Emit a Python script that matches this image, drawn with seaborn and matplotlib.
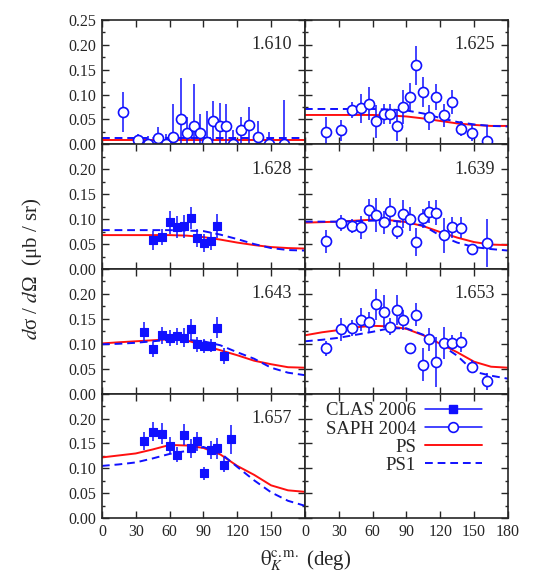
import matplotlib
matplotlib.use("Agg")
import matplotlib.pyplot as plt
from matplotlib.lines import Line2D
from matplotlib.ticker import MultipleLocator
import numpy as np
import seaborn as sns

# angles (deg) for the model curves
theta_curve = [0, 15, 30, 45, 60, 75, 90, 105, 120, 135, 150, 165, 180]

# SAPHIR 2004 angles, shared by all SAPH panels
saph_theta = [18.3, 31.6, 41.3, 49.3, 56.9, 63.4, 69.9, 75.2, 81.4, 87.0,
              92.9, 98.5, 104.4, 110.3, 116.5, 123.0, 130.7, 138.3, 148.0, 161.7]
# CLAS 2006 angles
clas_theta = [36.9, 45.5, 53.0, 60.1, 66.5, 72.9, 78.6, 84.5, 90.5, 96.4,
              102.4, 108.3, 114.3]

# W = 1.610
saph_1610 = [0.065, 0.008, 0.0, 0.013, 0.0, 0.0155, 0.050, 0.023, 0.037, 0.023,
             0.005, 0.047, 0.037, 0.036, 0.0, 0.028, 0.038, 0.0155, 0.0, 0.0]
saph_1610_err = [0.041, 0.012, 0.017, 0.022, 0.021, 0.066, 0.083, 0.032, 0.084, 0.037,
                 0.062, 0.040, 0.046, 0.044, 0.029, 0.026, 0.037, 0.032, 0.024, 0.089]
ps_1610 = [0.008] * 13
ps1_1610 = [0.012] * 13

# W = 1.625
saph_1625 = [0.0255, 0.028, 0.0685, 0.0726, 0.082, 0.046, 0.061, 0.061, 0.037, 0.0746,
             0.095, 0.159, 0.1055, 0.054, 0.095, 0.058, 0.085, 0.031, 0.0235, 0.0067]
saph_1625_err = [0.030, 0.021, 0.016, 0.029, 0.034, 0.033, 0.021, 0.021, 0.030, 0.034,
                 0.029, 0.039, 0.030, 0.025, 0.027, 0.024, 0.024, 0.015, 0.016, 0.033]
ps_1625 = [0.059, 0.059, 0.059, 0.059, 0.059, 0.058, 0.056, 0.052, 0.047, 0.042, 0.039, 0.037, 0.037]
ps1_1625 = [0.071, 0.071, 0.071, 0.071, 0.071, 0.070, 0.068, 0.062, 0.053, 0.045, 0.040, 0.037, 0.036]

# W = 1.628
clas_1628 = [0.058, 0.064, 0.094, 0.085, 0.086, 0.102, 0.062, 0.052, 0.056, 0.087]
clas_1628_err = [0.019, 0.016, 0.023, 0.022, 0.023, 0.022, 0.018, 0.018, 0.018, 0.024]
ps_1628 = [0.068, 0.068, 0.068, 0.068, 0.068, 0.067, 0.064, 0.059, 0.053, 0.048, 0.044, 0.042, 0.041]
ps1_1628 = [0.078, 0.078, 0.078, 0.078, 0.078, 0.077, 0.076, 0.069, 0.060, 0.050, 0.042, 0.038, 0.037]

# W = 1.639
saph_1639 = [0.056, 0.093, 0.087, 0.084, 0.119, 0.109, 0.094, 0.116, 0.077, 0.111,
             0.100, 0.055, 0.102, 0.114, 0.113, 0.068, 0.084, 0.083, 0.040, 0.052]
saph_1639_err = [0.023, 0.016, 0.014, 0.023, 0.022, 0.034, 0.023, 0.027, 0.017, 0.028,
                 0.024, 0.028, 0.019, 0.022, 0.025, 0.035, 0.021, 0.021, 0.010, 0.048]
ps_1639 = [0.093, 0.094, 0.095, 0.097, 0.099, 0.098, 0.094, 0.086, 0.074, 0.063, 0.054, 0.049, 0.048]
ps1_1639 = [0.095, 0.095, 0.095, 0.096, 0.097, 0.097, 0.094, 0.087, 0.067, 0.053, 0.044, 0.040, 0.037]

# W = 1.643
clas_1643 = [0.124, 0.089, 0.117, 0.112, 0.115, 0.112, 0.129, 0.099, 0.095, 0.096, 0.132, 0.075]
clas_1643_err = [0.019, 0.015, 0.017, 0.016, 0.017, 0.019, 0.021, 0.015, 0.014, 0.013, 0.021, 0.016]
ps_1643 = [0.1007, 0.103, 0.105, 0.107, 0.109, 0.107, 0.097, 0.087, 0.077, 0.066, 0.059, 0.053, 0.052]
ps1_1643 = [0.099, 0.100, 0.102, 0.105, 0.108, 0.108, 0.105, 0.097, 0.083, 0.070, 0.052, 0.042, 0.037]

# W = 1.653
saph_1653 = [0.0906, 0.129, 0.132, 0.148, 0.143, 0.179, 0.164, 0.134, 0.168, 0.148,
             0.092, 0.158, 0.058, 0.109, 0.064, 0.102, 0.102, 0.104, 0.054, 0.025]
saph_1653_err = [0.015, 0.023, 0.016, 0.023, 0.021, 0.031, 0.033, 0.017, 0.030, 0.020,
                 0.010, 0.023, 0.033, 0.023, 0.050, 0.032, 0.015, 0.020, 0.013, 0.017]
ps_1653 = [0.117, 0.123, 0.1275, 0.133, 0.136, 0.135, 0.130, 0.117, 0.100, 0.083, 0.064, 0.054, 0.052]
ps1_1653 = [0.105, 0.108, 0.112, 0.118, 0.124, 0.131, 0.131, 0.118, 0.099, 0.076, 0.044, 0.036, 0.030]

# W = 1.657
clas_1657 = [0.155, 0.174, 0.170, 0.145, 0.127, 0.168, 0.140, 0.154, 0.090, 0.137, 0.140, 0.107, 0.158]
clas_1657_err = [0.019, 0.020, 0.022, 0.017, 0.015, 0.021, 0.019, 0.020, 0.013, 0.018, 0.021, 0.015, 0.030]
ps_1657 = [0.122, 0.126, 0.130, 0.138, 0.147, 0.146, 0.141, 0.128, 0.105, 0.087, 0.066, 0.056, 0.053]
ps1_1657 = [0.105, 0.108, 0.112, 0.120, 0.129, 0.135, 0.143, 0.131, 0.103, 0.076, 0.052, 0.035, 0.025]

BLUE = '#1010ff'
RED = '#ff1010'

sns.set_style("ticks")
plt.rcParams['font.family'] = ['Liberation Serif', 'DejaVu Serif']
plt.rcParams['mathtext.fontset'] = 'stix'


def draw_points(ax, x, y, err, kind):
    y = np.asarray(y)
    err = np.asarray(err)
    low = np.minimum(err, y)
    if kind == 'clas':
        style = dict(marker='s', ms=6, mfc=BLUE, mec=BLUE)
    else:
        style = dict(marker='o', ms=7.2, mfc='white', mec=BLUE, mew=1.2)
    ax.errorbar(x, y, yerr=[low, err], fmt='none', ecolor=BLUE, elinewidth=1.1, zorder=3)
    sns.scatterplot(x=x, y=y, ax=ax, zorder=4, clip_on=False,
                    marker=style['marker'], s=style['ms'] ** 2,
                    facecolor=style['mfc'], edgecolor=style['mec'],
                    linewidth=style.get('mew', 0.8))


def draw_curves(ax, ps, ps1):
    sns.lineplot(x=theta_curve, y=ps, ax=ax, color=RED, lw=1.4, zorder=2)
    sns.lineplot(x=theta_curve, y=ps1, ax=ax, color=BLUE, lw=1.4, ls=(0, (4, 2.5)), zorder=2)


panels = [
    ('1.610', 'saph', saph_theta, saph_1610, saph_1610_err, ps_1610, ps1_1610),
    ('1.625', 'saph', saph_theta, saph_1625, saph_1625_err, ps_1625, ps1_1625),
    ('1.628', 'clas', clas_theta[1:11], clas_1628, clas_1628_err, ps_1628, ps1_1628),
    ('1.639', 'saph', saph_theta, saph_1639, saph_1639_err, ps_1639, ps1_1639),
    ('1.643', 'clas', clas_theta[:12], clas_1643, clas_1643_err, ps_1643, ps1_1643),
    ('1.653', 'saph', saph_theta, saph_1653, saph_1653_err, ps_1653, ps1_1653),
    ('1.657', 'clas', clas_theta, clas_1657, clas_1657_err, ps_1657, ps1_1657),
]

fig, axes = plt.subplots(4, 2, figsize=(5.45, 5.81), dpi=100)
fig.subplots_adjust(left=0.187, right=0.932, top=0.966, bottom=0.108, wspace=0, hspace=0)

for i, ax in enumerate(axes.flat):
    row, col = divmod(i, 2)
    if i < 7:
        label, kind, x, y, err, ps, ps1 = panels[i]
        draw_curves(ax, ps, ps1)
        draw_points(ax, x, y, err, kind)
        ax.text(0.935, 0.80, label, transform=ax.transAxes, ha='right', va='center', fontsize=13)

    ax.set_xlim(0, 180)
    ax.set_ylim(0, 0.25)
    ax.xaxis.set_major_locator(MultipleLocator(30))
    ax.yaxis.set_major_locator(MultipleLocator(0.05))
    ax.yaxis.set_minor_locator(MultipleLocator(0.025))
    ax.tick_params(which='both', direction='in', top=True, right=True, labelsize=11.5,
                   width=1.0, pad=4)
    ax.tick_params(which='major', length=5)
    ax.tick_params(which='minor', length=2.5)
    for sp in ax.spines.values():
        sp.set_linewidth(1.2)
    ax.set_xlabel('')
    ax.set_ylabel('')

    if col == 0:
        yt = [0, 0.05, 0.10, 0.15, 0.20, 0.25]
        ax.set_yticks(yt)
        ax.set_yticklabels([f'{v:.2f}' if (row == 0 or v < 0.24) else '' for v in yt])
    else:
        ax.set_yticklabels([])
    if row == 3:
        xt = [0, 30, 60, 90, 120, 150, 180]
        ax.set_xticks(xt)
        if col == 0:
            ax.set_xticklabels([str(v) if v < 180 else '' for v in xt])
        else:
            ax.set_xticklabels([str(v) for v in xt])
    else:
        ax.set_xticklabels([])

# legend panel
leg_ax = axes[3, 1]
handles = [
    Line2D([], [], color=BLUE, lw=1.1, marker='s', ms=6),
    Line2D([], [], color=BLUE, lw=1.1, marker='o', ms=7, mfc='white', mew=1.2),
    Line2D([], [], color=RED, lw=1.4),
    Line2D([], [], color=BLUE, lw=1.4, ls=(0, (4, 2.5))),
]
labels = ['CLAS 2006', 'SAPH 2004', 'PS', 'PS1']
leg_ax.legend(handles, labels, markerfirst=False, frameon=False, loc='upper right',
              bbox_to_anchor=(0.87, 0.93), fontsize=13.5, handlelength=3.0,
              labelspacing=0.05, handletextpad=0.5, borderpad=0, borderaxespad=0,
              numpoints=1)

fig.text(0.058, 0.537, r'$d$σ / $d$Ω  (μb / sr)', rotation=90, ha='center', va='center', fontsize=15)
fig.text(0.56, 0.035, r'$\mathrm{\theta}_K^{\mathrm{c.m.}}$ (deg)', ha='center', va='center', fontsize=15)

fig.savefig('out.png', dpi=100)
